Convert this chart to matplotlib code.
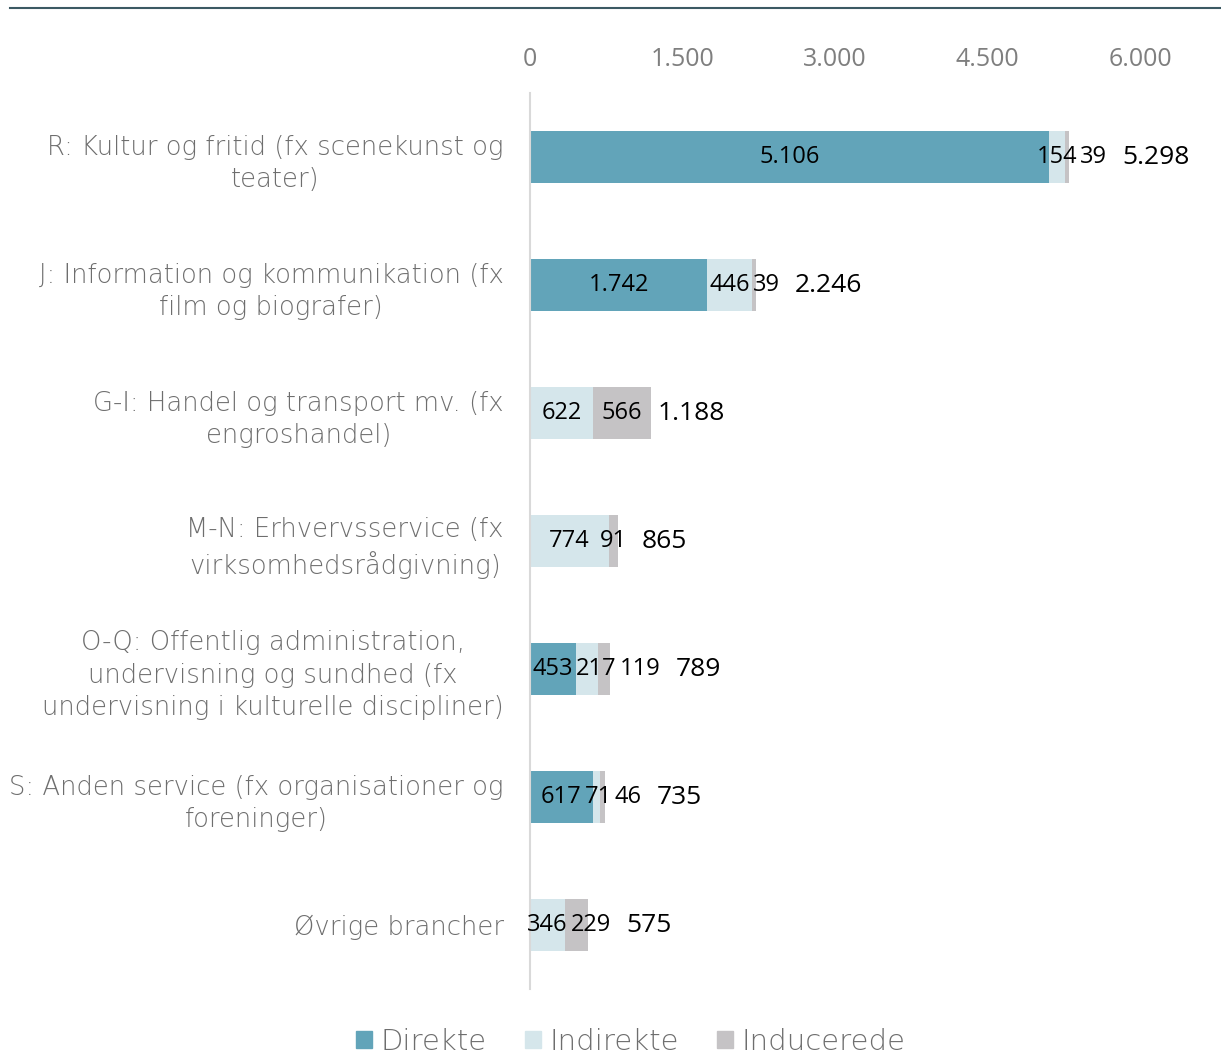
import matplotlib
matplotlib.use("Agg")
import matplotlib.pyplot as plt
from matplotlib.lines import Line2D
from matplotlib.patches import Patch
import numpy as np

categories = [
    "R: Kultur og fritid (fx scenekunst og\nteater)",
    "J: Information og kommunikation (fx\nfilm og biografer)",
    "G-I: Handel og transport mv. (fx\nengroshandel)",
    "M-N: Erhvervsservice (fx\nvirksomhedsrådgivning)",
    "O-Q: Offentlig administration,\nundervisning og sundhed (fx\nundervisning i kulturelle discipliner)",
    "S: Anden service (fx organisationer og\nforeninger)",
    "Øvrige brancher",
]
direkte = [5106, 1742, 0, 0, 453, 617, 0]
indirekte = [154, 446, 622, 774, 217, 71, 346]
inducerede = [39, 39, 566, 91, 119, 46, 229]
totals = [5298, 2246, 1188, 865, 789, 735, 575]

series_names = ["Direkte", "Indirekte", "Inducerede"]
colors = ["#62a4b9", "#d5e6eb", "#c5c3c5"]
grey_text = "#7f7f7f"
label_grey = "#6e6e6e"

text_font = ["DejaVu Sans"]
num_font = ["Open Sans", "DejaVu Sans"]
plt.rcParams["font.family"] = num_font


def fmt(v):
    return f"{v:,}".replace(",", ".")


fig = plt.figure(figsize=(12.21, 10.54), dpi=100)
ax = fig.add_axes([530 / 1221, 1 - 989 / 1054, 610 / 1221, 896 / 1054])

y = np.arange(len(categories))
left = np.zeros(len(categories))
for values, color in zip([direkte, indirekte, inducerede], colors):
    ax.barh(y, values, left=left, height=0.4, color=color)
    left += np.array(values)

ax.set_xlim(0, 6000)
ax.set_ylim(len(categories) - 0.5, -0.5)
ax.set_xticks([0, 1500, 3000, 4500, 6000])
ax.set_xticklabels([fmt(v) for v in [0, 1500, 3000, 4500, 6000]])
ax.xaxis.tick_top()
ax.tick_params(axis="x", length=0, pad=15, labelsize=18, labelcolor=grey_text)
ax.set_yticks(y)
ax.set_yticklabels(categories)
ax.tick_params(axis="y", length=0, pad=19, labelcolor=label_grey)
for t in ax.get_yticklabels():
    t.set_family(text_font)
    t.set_fontsize(18.6)
    t.set_fontweight("light")
    t.set_multialignment("center")
    t.set_linespacing(1.38)

for side in ["top", "right", "bottom"]:
    ax.spines[side].set_visible(False)
ax.spines["left"].set_color("#d9d9d9")
ax.spines["left"].set_linewidth(1.5)

# value labels: centred on segment, pushed right when they would overlap
fig.canvas.draw()
renderer = fig.canvas.get_renderer()
to_data = ax.transData.inverted()
gap = 3
for i in range(len(categories)):
    start = 0
    prev_x1 = None
    for values in [direkte, indirekte, inducerede]:
        v = values[i]
        if v <= 0:
            continue
        t = ax.text(start + v / 2, i, fmt(v), ha="center", va="center",
                    fontsize=17, color="black")
        bb = t.get_window_extent(renderer)
        if prev_x1 is not None and bb.x0 < prev_x1 + gap:
            t.set_ha("left")
            t.set_x(to_data.transform((prev_x1 + gap, 0))[0])
            bb = t.get_window_extent(renderer)
        prev_x1 = bb.x1
        start += v
    ax.text(to_data.transform((prev_x1 + 15, 0))[0], i, fmt(totals[i]),
            ha="left", va="center", fontsize=19, color="black")

handles = [Patch(color=c) for c in colors]
leg = fig.legend(handles, series_names, loc="center", ncol=3,
                 bbox_to_anchor=(631 / 1221, 1 - 1042 / 1054), frameon=False,
                 prop={"family": text_font, "size": 21, "weight": "light"},
                 handlelength=0.55, handleheight=0.55,
                 handletextpad=0.3, columnspacing=1.3)
for t in leg.get_texts():
    t.set_color(label_grey)

fig.add_artist(Line2D([10 / 1221, 1], [1 - 8 / 1054] * 2, color="#3b5963", lw=1.5))

fig.savefig("out.png", dpi=100)
